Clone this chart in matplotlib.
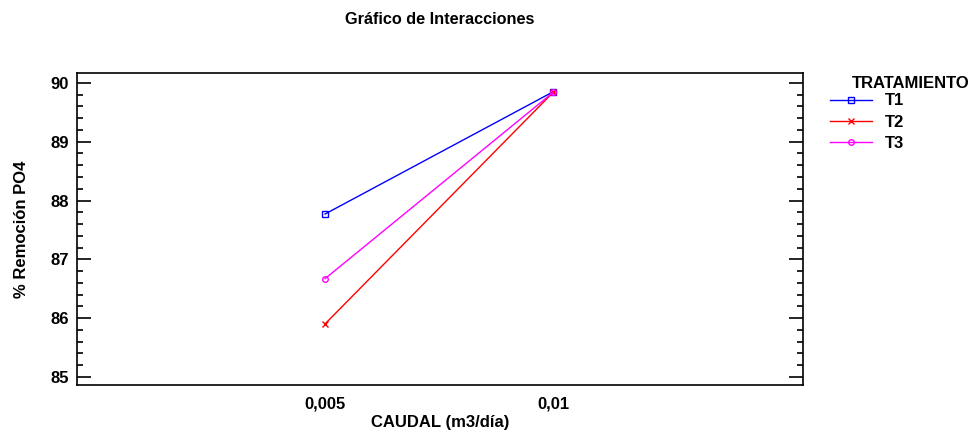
import matplotlib.pyplot as plt
from matplotlib.ticker import MultipleLocator

plt.rcParams['font.family'] = ['Liberation Sans', 'DejaVu Sans']
plt.rcParams['font.weight'] = 'bold'

# data
caudal = ['0,005', '0,01']
t1 = [87.77, 89.85]
t2 = [85.90, 89.84]
t3 = [86.67, 89.84]

fig = plt.figure(figsize=(9.72, 4.32), dpi=100)
ax = fig.add_axes([77/972, 1 - 385/432, (803-77)/972, (385-73)/432])

x = range(len(caudal))
ax.plot(x, t1, color='blue', marker='s', markersize=4, markerfacecolor='none', lw=1, label='T1')
ax.plot(x, t2, color='red', marker='x', markersize=5, lw=1, label='T2')
ax.plot(x, t3, color='magenta', marker='o', markersize=4, markerfacecolor='none', lw=1, label='T3')

ax.set_xlim(-1.088, 2.096)
ax.set_ylim(84.86, 90.17)
ax.set_xticks(list(x))
ax.set_xticklabels(caudal)
ax.tick_params(axis='x', length=0, labelsize=12, pad=8)
ax.yaxis.set_major_locator(MultipleLocator(1))
ax.yaxis.set_minor_locator(MultipleLocator(0.2))
ax.tick_params(axis='y', which='major', direction='in', length=10, width=1.2, left=True, right=True,
               labelsize=12, pad=6)
ax.tick_params(axis='y', which='minor', direction='in', length=4.5, width=1.2, left=True, right=True)
for s in ax.spines.values():
    s.set_linewidth(1.2)

ax.set_xlabel('CAUDAL (m3/día)', fontsize=12, fontweight='bold', labelpad=3)
ax.set_ylabel('% Remoción PO4', fontsize=12, fontweight='bold', labelpad=15)
fig.text(440/972, 1 - 20/432, 'Gráfico de Interacciones', ha='center', va='center', fontsize=11.7, fontweight='bold')

fig.text(970/972, 1 - 83/432, 'TRATAMIENTO', ha='right', va='center', fontsize=12, fontweight='bold')
ax.legend(loc='center left', bbox_to_anchor=(830/972, 1 - 122/432), bbox_transform=fig.transFigure,
          frameon=False, fontsize=12, handlelength=2.5, handletextpad=0.78,
          labelspacing=0.37, borderaxespad=0, borderpad=0)

fig.savefig('out.png', dpi=100)
